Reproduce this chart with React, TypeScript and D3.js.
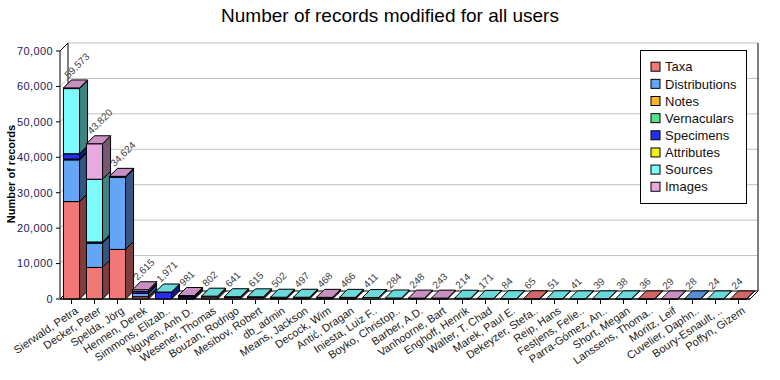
import React from "react";
import * as d3 from "d3";

const categories = [
  "Sierwald, Petra", "Decker, Peter", "Spelda, Jörg", "Hennen, Derek", "Simmons, Elizab..",
  "Nguyen, Anh D.", "Wesener, Thomas", "Bouzan, Rodrigo", "Mesibov, Robert", "db_admin",
  "Means, Jackson", "Decock, Wim", "Antić, Dragan", "Iniesta, Luiz F..", "Boyko, Christop..",
  "Barber, A.D.", "Vanhoorne, Bart", "Enghoff, Henrik", "Walter, T. Chad", "Marek, Paul E.",
  "Dekeyzer, Stefa..", "Reip, Hans", "Festjens, Felie..", "Parra-Gómez, An..", "Short, Megan",
  "Lanssens, Thoma..", "Moritz, Leif", "Cuvelier, Daphn..", "Boury-Esnault, ..", "Poffyn, Gizem",
];

const seriesNames = ["Taxa", "Distributions", "Notes", "Vernaculars", "Specimens", "Attributes", "Sources", "Images"];
const seriesColors = ["#F27878", "#64A6F6", "#FFB42A", "#55E48C", "#2430EE", "#EEEE22", "#7CFCFC", "#E8A8E0"];

const taxa = [27500, 8900, 14000, 650, 0, 300, 600, 450, 420, 0, 330, 300, 300, 0, 0, 0, 0, 0, 0, 0, 65, 0, 0, 0, 0, 36, 0, 0, 0, 24];
const distributions = [11800, 6900, 20400, 950, 0, 0, 0, 0, 0, 0, 0, 0, 0, 0, 0, 0, 0, 0, 0, 0, 0, 0, 0, 0, 0, 0, 0, 28, 0, 0];
const notes = [200, 0, 150, 0, 0, 0, 0, 0, 0, 0, 0, 0, 0, 0, 0, 0, 0, 0, 0, 0, 0, 0, 0, 0, 0, 0, 0, 0, 0, 0];
const vernaculars = [0, 0, 0, 0, 0, 0, 0, 0, 0, 0, 0, 0, 0, 0, 0, 0, 0, 0, 0, 0, 0, 0, 0, 0, 0, 0, 0, 0, 0, 0];
const specimens = [1500, 300, 0, 500, 1850, 400, 0, 0, 0, 250, 0, 0, 0, 0, 0, 0, 0, 0, 0, 0, 0, 0, 0, 0, 0, 0, 0, 0, 0, 0];
const attributes = [0, 0, 0, 0, 0, 0, 0, 0, 0, 0, 0, 0, 0, 0, 0, 0, 0, 0, 0, 0, 0, 0, 0, 0, 0, 0, 0, 0, 0, 0];
const sources = [18400, 17700, 0, 0, 121, 0, 202, 191, 195, 252, 167, 0, 166, 411, 284, 0, 0, 214, 171, 84, 0, 51, 41, 39, 38, 0, 0, 0, 24, 0];
const images = [173, 10020, 74, 515, 0, 281, 0, 0, 0, 0, 0, 168, 0, 0, 0, 248, 243, 0, 0, 0, 0, 0, 0, 0, 0, 0, 29, 0, 0, 0];

const yTicks = [0, 10000, 20000, 30000, 40000, 50000, 60000, 70000];

const FONT = "'Liberation Sans', Arial, sans-serif";

export default function App() {
  const seriesValues = [taxa, distributions, notes, vernaculars, specimens, attributes, sources, images];
  const left = 60, right = 750, bottom = 299, top = 51;
  const DX = 8, DY = 8;
  const x = d3.scaleBand<string>().domain(categories).range([left, right]).paddingInner(0.3).paddingOuter(0.15);
  const y = d3.scaleLinear().domain([0, 70000]).range([bottom, top]);
  const fmt = d3.format(",");
  const bw = x.bandwidth();

  const shade = (c: string, k: number) => {
    const col = d3.rgb(c);
    return d3.rgb(col.r * k, col.g * k, col.b * k).formatHex();
  };

  const bars: React.ReactNode[] = [];
  const valueLabels: React.ReactNode[] = [];
  categories.forEach((cat, i) => {
    const bx = x(cat)!;
    let acc = 0;
    seriesValues.forEach((vals, s) => {
      const v = vals[i];
      if (!v) return;
      const y0 = y(acc);
      const y1 = y(acc + v);
      acc += v;
      const c = seriesColors[s];
      bars.push(
        <g key={`${i}-${s}`} stroke="#000" strokeWidth={1} strokeLinejoin="round">
          <rect x={bx} y={y1} width={bw} height={Math.max(0, y0 - y1)} fill={c} />
          <polygon
            points={`${bx + bw},${y1} ${bx + bw + DX},${y1 - DY} ${bx + bw + DX},${y0 - DY} ${bx + bw},${y0}`}
            fill={shade(c, 0.52)}
          />
          <polygon
            points={`${bx},${y1} ${bx + DX},${y1 - DY} ${bx + bw + DX},${y1 - DY} ${bx + bw},${y1}`}
            fill={shade(c, 0.86)}
          />
        </g>
      );
    });
    const yt = y(acc);
    valueLabels.push(
      <text
        key={`v${i}`}
        transform={`translate(${bx + 5},${yt - 9}) rotate(-45)`}
        fontSize={10}
        fill="#444"
        fontFamily={FONT}
      >
        {fmt(acc)}
      </text>
    );
  });

  return (
    <svg width={780} height={380} style={{ position: "absolute", left: 0, top: 0, background: "#fff" }}>
      <text x={390} y={22} textAnchor="middle" fontSize={19} fontFamily={FONT} fill="#000">
        Number of records modified for all users
      </text>
      <text
        transform={`translate(15,174) rotate(-90)`}
        textAnchor="middle"
        fontSize={11}
        fontWeight="bold"
        fontFamily={FONT}
        fill="#000"
      >
        Number of records
      </text>

      {/* back wall grid */}
      {yTicks.slice(1).map((t) => (
        <polyline
          key={`g${t}`}
          points={`${left},${y(t)} ${left + DX},${y(t) - DY} ${right + DX},${y(t) - DY}`}
          fill="none"
          stroke="#c0c0c0"
          strokeWidth={1}
        />
      ))}
      {/* walls */}
      <line x1={left + DX} y1={y(70000) - DY} x2={left + DX} y2={bottom - DY} stroke="#000" />
      <line x1={left} y1={top} x2={left + DX} y2={top - DY} stroke="#000" />
      <line x1={right + DX} y1={y(70000) - DY} x2={right + DX} y2={bottom - DY} stroke="#000" />
      <polygon
        points={`${left},${bottom} ${right},${bottom} ${right + DX},${bottom - DY} ${left + DX},${bottom - DY}`}
        fill="#fff"
        stroke="#000"
      />
      {bars}
      <line x1={left} y1={top} x2={left} y2={bottom} stroke="#000" />
      <line x1={left} y1={bottom} x2={right} y2={bottom} stroke="#000" />

      {yTicks.map((t) => (
        <g key={`t${t}`}>
          <line x1={left - 4} y1={y(t)} x2={left} y2={y(t)} stroke="#000" />
          <text
            x={left - 7}
            y={y(t)}
            dy="0.35em"
            textAnchor="end"
            fontSize={11}
            letterSpacing={0.4}
            fontFamily={FONT}
            fill="#1c1c5a"
          >
            {fmt(t)}
          </text>
        </g>
      ))}

      {categories.map((cat) => {
        const cx = x(cat)! + bw / 2;
        return (
          <g key={`x${cat}`}>
            <line x1={cx} y1={bottom} x2={cx} y2={bottom + 5} stroke="#000" />
            <text
              transform={`translate(${cx + 3},${bottom + 7}) rotate(-34)`}
              textAnchor="end"
              dy="0.71em"
              fontSize={11}
              fontFamily={FONT}
              fill="#222"
            >
              {cat}
            </text>
          </g>
        );
      })}

      {valueLabels}

      <g>
        <rect x={640.5} y={50.5} width={106} height={153} fill="#fff" stroke="#000" />
        {seriesNames.map((n, i) => (
          <g key={n} transform={`translate(651,${66.7 + i * 17.15})`}>
            <rect x={0} y={-4.5} width={9} height={9} fill={seriesColors[i]} stroke="#000" strokeWidth={1} />
            <text x={14} y={0} dy="0.36em" fontSize={13} fontFamily={FONT} fill="#111">
              {n}
            </text>
          </g>
        ))}
      </g>
    </svg>
  );
}
